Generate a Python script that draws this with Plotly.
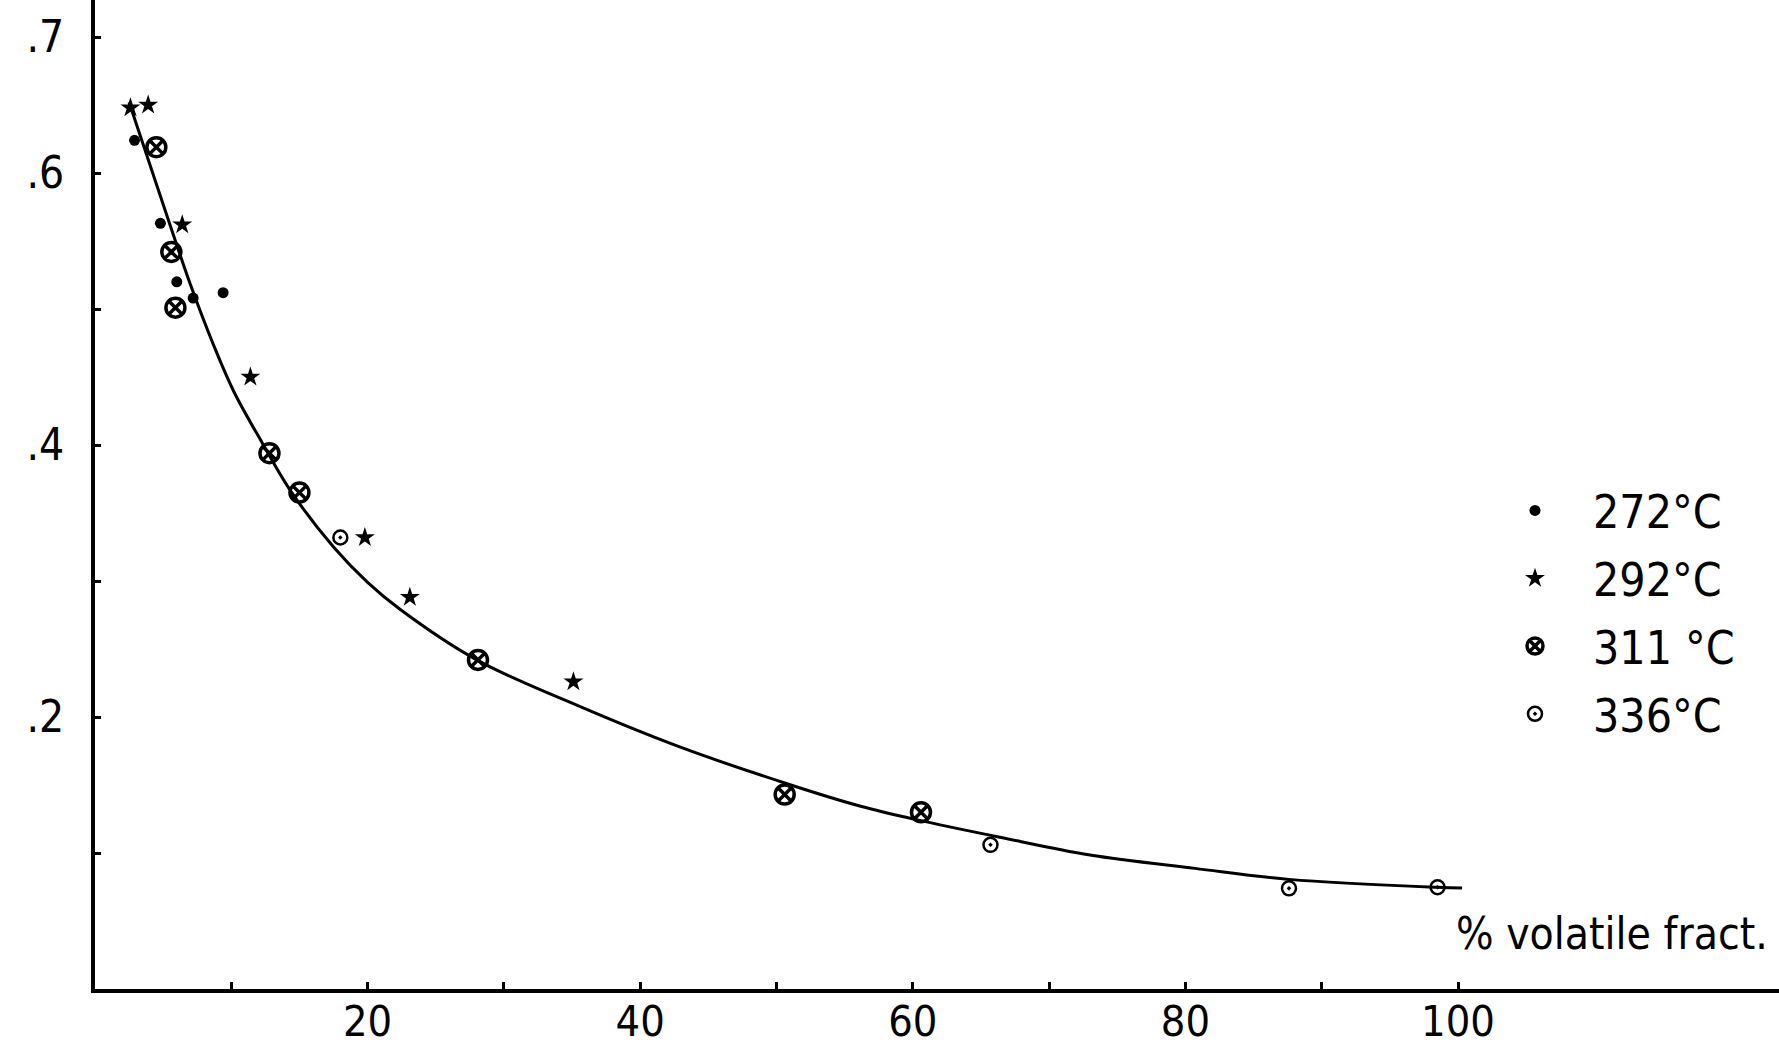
import plotly.graph_objects as go

# ---- data ----
curve_x = [2.5, 4.0, 5.5, 7.0, 8.8, 10.2, 12.3, 14.3, 17.5, 20.0, 22.4, 28.0, 35.6, 42.9, 50.6, 56.1, 60.5, 66.2, 73.0, 80.7, 87.6, 98.5, 100.3]
curve_y = [0.652, 0.607, 0.562, 0.518, 0.471, 0.439, 0.401, 0.367, 0.325, 0.299, 0.279, 0.242, 0.2076, 0.178, 0.1515, 0.1346, 0.124, 0.112, 0.0985, 0.0887, 0.0806, 0.0748, 0.0743]

t272_x = [2.9, 4.8, 6.0, 7.2, 9.4]
t272_y = [0.624, 0.563, 0.520, 0.508, 0.512]

t292_x = [2.6, 3.9, 6.4, 11.4, 19.8, 23.1, 35.1]
t292_y = [0.648, 0.650, 0.562, 0.450, 0.332, 0.288, 0.226]

t311_x = [4.5, 5.6, 5.9, 12.8, 15.0, 28.1, 50.6, 60.6]
t311_y = [0.619, 0.542, 0.501, 0.394, 0.365, 0.242, 0.143, 0.130]

t336_x = [18.0, 65.7, 87.6, 98.5]
t336_y = [0.332, 0.106, 0.074, 0.0748]

series_names = ["272°C", "292°C", "311 °C", "336°C"]

x_tickvals = [10, 20, 30, 40, 50, 60, 70, 80, 90, 100]
x_ticktext = ["", "20", "", "40", "", "60", "", "80", "", "100"]
y_tickvals = [0.1, 0.2, 0.3, 0.4, 0.5, 0.6, 0.7]
y_ticktext = ["", ".2", "", ".4", "", ".6", ".7"]

axis_title = "% volatile fract."

FONT = "Liberation Sans Narrow, DejaVu Sans Condensed, Arial Narrow, sans-serif"

fig = go.Figure()

fig.add_trace(go.Scatter(x=curve_x, y=curve_y, mode="lines", line=dict(color="black", width=3, shape="spline", smoothing=1.0),
                         showlegend=False, hoverinfo="skip"))

fig.add_trace(go.Scatter(x=t272_x, y=t272_y, mode="markers", name=series_names[0], legendgroup="a",
                         marker=dict(symbol="circle", size=11, color="black")))
fig.add_trace(go.Scatter(x=t292_x, y=t292_y, mode="markers", name=series_names[1], legendgroup="b",
                         marker=dict(symbol="star", size=15, color="black")))
fig.add_trace(go.Scatter(x=t311_x, y=t311_y, mode="markers", name=series_names[2], legendgroup="c",
                         marker=dict(symbol="circle-x-open", size=19, color="black", line=dict(width=3.5, color="black"))))
fig.add_trace(go.Scatter(x=t336_x, y=t336_y, mode="markers", name=series_names[3], legendgroup="d",
                         marker=dict(symbol="circle-open-dot", size=14, color="black", line=dict(width=2.5, color="black"))))

W, H = 1779, 1047
L, B = 95, 58
plot_w = W - L
plot_h = H - B
px_per_x = 13.63
px_per_y = 1360.0

fig.update_layout(
    width=W, height=H,
    margin=dict(l=L, r=0, t=0, b=B, autoexpand=False),
    paper_bgcolor="white", plot_bgcolor="white",
    font=dict(family=FONT, color="black", size=44),
    showlegend=True,
    legend=dict(x=(1477 - L) / plot_w, y=(H - B - 474) / plot_h, xanchor="left", yanchor="top",
                bgcolor="rgba(0,0,0,0)", font=dict(size=46, family=FONT), tracegroupgap=5,
                itemwidth=106),
    xaxis=dict(range=[0, plot_w / px_per_x], showgrid=False, zeroline=False, automargin=False,
               showline=True, linewidth=4, linecolor="black",
               ticks="inside", ticklen=7, tickwidth=3, tickcolor="black",
               tickvals=x_tickvals, ticktext=x_ticktext, tickfont=dict(size=43, family=FONT),
               ticklabelstandoff=-9),
    yaxis=dict(range=[0, plot_h / px_per_y], showgrid=False, zeroline=False, automargin=False,
               showline=True, linewidth=4, linecolor="black",
               ticks="inside", ticklen=6, tickwidth=3, tickcolor="black",
               tickvals=y_tickvals, ticktext=y_ticktext, tickfont=dict(size=44, family=FONT),
               ticklabelstandoff=18),
    annotations=[dict(text=axis_title, xref="paper", yref="paper", x=(1770 - L) / plot_w, y=(989 - 933) / plot_h,
                      xanchor="right", yanchor="middle", showarrow=False, font=dict(size=44, family=FONT))],
)

fig.write_html("out.html")
